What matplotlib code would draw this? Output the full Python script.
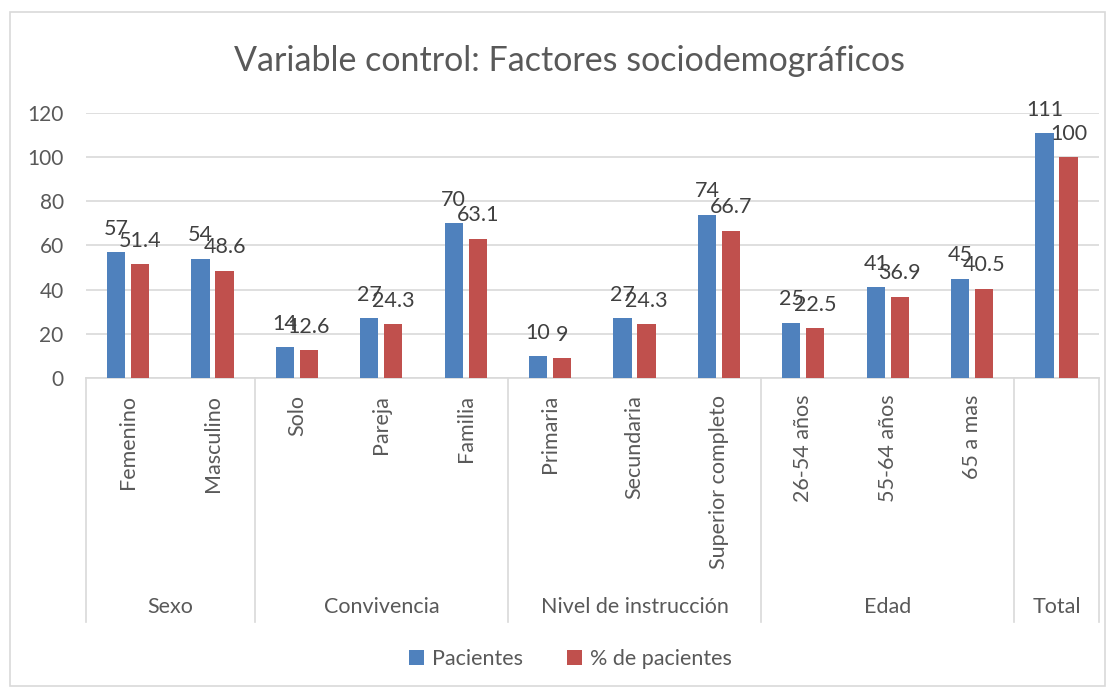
import matplotlib.pyplot as plt
from matplotlib.patches import Rectangle
import matplotlib.transforms as mtransforms
import numpy as np

plt.rcParams['font.family'] = ['Lato', 'DejaVu Sans']

# data
categories = ['Femenino', 'Masculino', 'Solo', 'Pareja', 'Familia',
              'Primaria', 'Secundaria', 'Superior completo',
              '26-54 años', '55-64 años', '65 a mas', '']
groups = ['Sexo', 'Convivencia', 'Nivel de instrucción', 'Edad', 'Total']
group_sizes = [2, 3, 3, 3, 1]
pacientes = [57, 54, 14, 27, 70, 10, 27, 74, 25, 41, 45, 111]
pct_pacientes = [51.4, 48.6, 12.6, 24.3, 63.1, 9, 24.3, 66.7, 22.5, 36.9, 40.5, 100]

blue = '#4F81BD'
red = '#C0504D'
txt = '#595959'
grid = '#D9D9D9'

fig = plt.figure(figsize=(11.12, 6.89), dpi=100)
ax = fig.add_axes([0.0773, 0.4514, 0.9107, 0.3846])

x = np.arange(len(categories))
w = 0.215
off = 0.142
ax.bar(x - off, pacientes, w, color=blue, label='Pacientes', zorder=3)
ax.bar(x + off, pct_pacientes, w, color=red, label='% de pacientes', zorder=3)

# data labels
for xi, v in zip(x, pacientes):
    ax.annotate(f'{v:g}', (xi - off, v), xytext=(0, 12.5), textcoords='offset points',
                ha='center', va='baseline', fontsize=15.5, color='#404040')
for xi, v in zip(x, pct_pacientes):
    ax.annotate(f'{v:g}', (xi + off, v), xytext=(0, 12.5), textcoords='offset points',
                ha='center', va='baseline', fontsize=15.5, color='#404040')

ax.set_xlim(-0.5, len(categories) - 0.5)
ax.set_ylim(0, 120)
ax.set_yticks(range(0, 121, 20))
ax.yaxis.grid(True, color=grid, linewidth=1.2, zorder=0)
ax.tick_params(axis='y', length=0, pad=16, labelsize=15, labelcolor=txt)
ax.set_xticks(x)
ax.set_xticklabels(categories, rotation=90, fontsize=15.5, color=txt)
ax.tick_params(axis='x', length=0, pad=12)
for s in ['top', 'right', 'left']:
    ax.spines[s].set_visible(False)
ax.spines['bottom'].set_color(grid)
ax.spines['bottom'].set_linewidth(1.2)

# group separators and labels
trans = mtransforms.blended_transform_factory(ax.transData, ax.transAxes)
edges = np.concatenate([[0], np.cumsum(group_sizes)]) - 0.5
for e in edges:
    ax.plot([e, e], [0, -0.921], color=grid, lw=1.2, transform=trans, clip_on=False)
for g, a, b in zip(groups, edges[:-1], edges[1:]):
    ax.text((a + b) / 2, -0.864, g, transform=trans, ha='center', va='center',
            fontsize=15.5, color=txt)

fig.text(0.512, 0.912, 'Variable control: Factores sociodemográficos',
         ha='center', va='center', fontsize=24.5, color=txt)

fig.legend(loc='center', bbox_to_anchor=(0.513, 0.044), ncol=2, frameon=False,
           fontsize=15.5, handlelength=0.7, handleheight=0.7, columnspacing=2.0,
           handletextpad=0.4, labelcolor=txt)

fig.patches.append(Rectangle((0.009, 0.004), 0.985, 0.978, transform=fig.transFigure,
                             fill=False, edgecolor=grid, lw=1.2))

plt.savefig('out.png', dpi=100)
